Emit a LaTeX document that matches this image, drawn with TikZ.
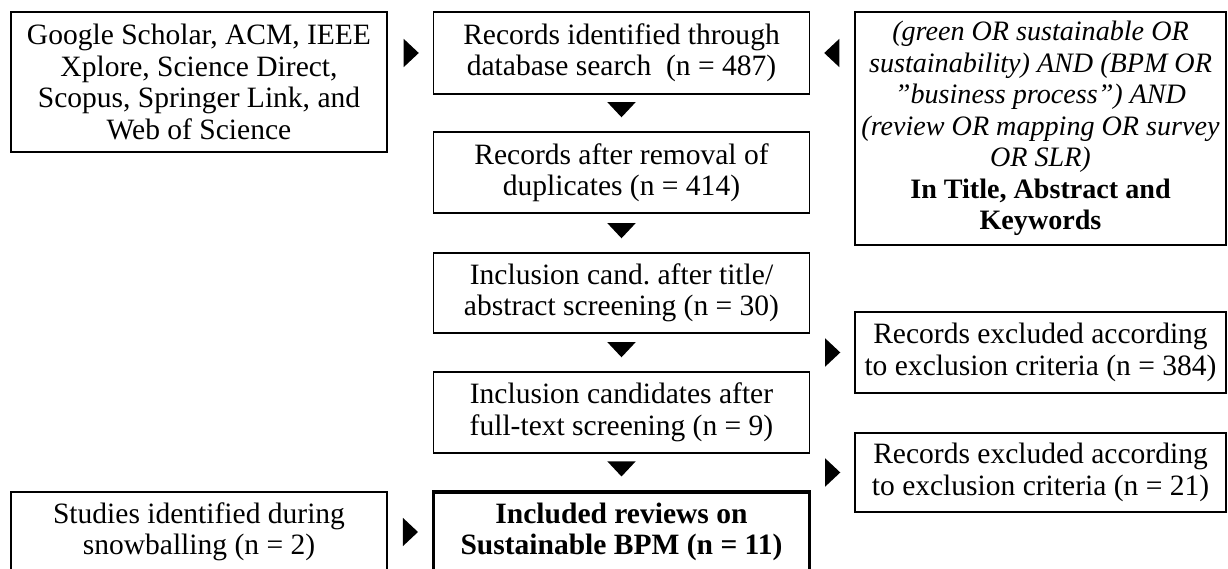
\documentclass[tikz,border=0pt]{standalone}
\usepackage{fontspec}
\setmainfont{Liberation Serif}
\usetikzlibrary{arrows.meta}

\begin{document}
\begin{tikzpicture}[
    every node/.style={font=\fontsize{16.8}{17.9}\selectfont},
    boxstyle/.style={rectangle, draw=black, line width=1.1pt, inner sep=0pt,
                     minimum width=7.52cm, align=center},
    finalbox/.style={line width=2pt, font=\fontsize{16.8}{17.9}\selectfont\bfseries},
    flowarrow/.style={draw opacity=0, line width=0.2pt, shorten >=0.27cm,
                      -{Triangle[length=0.31cm, width=0.58cm, fill=black]}}
]
  \useasboundingbox (0, 0) rectangle (24.56, 11.38);

  % Left column
  \node[boxstyle, minimum height=2.8cm] (sources) at (3.98, 9.74)
    {Google Scholar, ACM, IEEE\\Xplore, Science Direct,\\Scopus, Springer Link, and\\Web of Science};
  \node[boxstyle, minimum height=1.6cm] (snowball) at (3.98, 0.74)
    {Studies identified during\\snowballing (n = 2)};

  % Middle column
  \node[boxstyle, minimum height=1.64cm] (identified) at (12.43, 10.32)
    {Records identified through\\database search\ \ (n = 487)};
  \node[boxstyle, minimum height=1.62cm] (dedup) at (12.43, 7.93)
    {Records after removal of\\duplicates (n = 414)};
  \node[boxstyle, minimum height=1.6cm] (titlescr) at (12.43, 5.52)
    {Inclusion cand.\ after title/\\abstract screening (n = 30)};
  \node[boxstyle, minimum height=1.62cm] (fulltext) at (12.43, 3.13)
    {Inclusion candidates after\\full-text screening (n = 9)};
  \node[boxstyle, finalbox, minimum height=1.6cm] (included) at (12.43, 0.74)
    {Included reviews on\\Sustainable BPM (n = 11)};

  % Right column
  \node[boxstyle, font=\fontsize{16}{17.9}\selectfont, minimum width=7.42cm,
        minimum height=4.66cm] (query) at (20.81, 8.81)
    {\itshape (green OR sustainable OR\\\itshape sustainability) AND (BPM OR\\\itshape ''business process'') AND\\\itshape (review OR mapping OR survey\\\itshape OR SLR)\\\textbf{In Title, Abstract and}\\\textbf{Keywords}};
  \node[boxstyle, minimum width=7.42cm, minimum height=1.62cm] (excl-a) at (20.81, 4.33)
    {Records excluded according\\to exclusion criteria (n = 384)};
  \node[boxstyle, minimum width=7.42cm, minimum height=1.58cm] (excl-b) at (20.81, 1.93)
    {Records excluded according\\to exclusion criteria (n = 21)};

  % Arrows
  \draw[flowarrow] (sources.east |- identified) -- (identified);
  \draw[flowarrow] (query.west |- identified) -- (identified);
  \draw[flowarrow] (identified) -- (dedup);
  \draw[flowarrow] (dedup) -- (titlescr);
  \draw[flowarrow] (titlescr) -- (fulltext);
  \draw[flowarrow] (fulltext) -- (included);
  \draw[flowarrow] (titlescr.east |- excl-a) -- (excl-a);
  \draw[flowarrow] (fulltext.east |- excl-b) -- (excl-b);
  \draw[flowarrow] (snowball) -- (included);

\end{tikzpicture}
\end{document}
